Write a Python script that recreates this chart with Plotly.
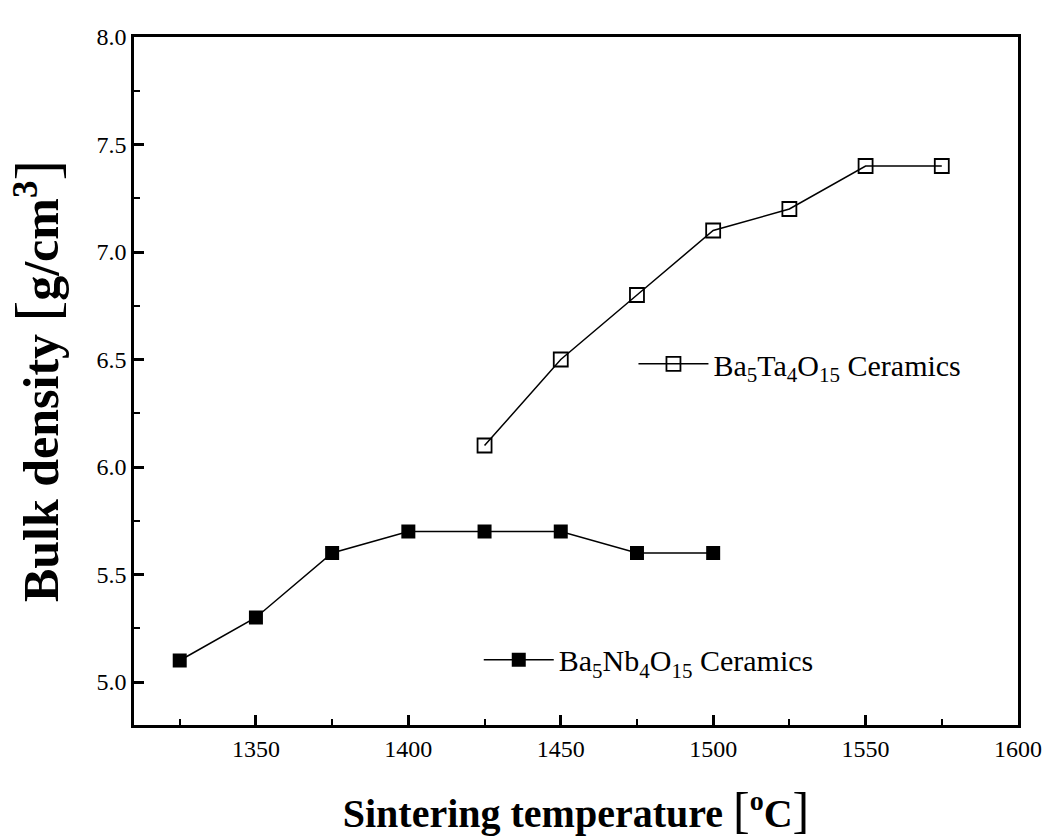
import plotly.graph_objects as go

nb_temp = [1325, 1350, 1375, 1400, 1425, 1450, 1475, 1500]
nb_density = [5.1, 5.3, 5.6, 5.7, 5.7, 5.7, 5.6, 5.6]
ta_temp = [1425, 1450, 1475, 1500, 1525, 1550, 1575]
ta_density = [6.1, 6.5, 6.8, 7.1, 7.2, 7.4, 7.4]

x_ticks = [1350, 1400, 1450, 1500, 1550, 1600]
y_ticks = [5.0, 5.5, 6.0, 6.5, 7.0, 7.5, 8.0]

FONT = "Liberation Serif"


def br(ch, size):
    return '<span style="font-weight:normal;font-size:%dpx">%s</span>' % (size, ch)


fig = go.Figure()
fig.add_trace(go.Scatter(
    x=ta_temp, y=ta_density, mode="lines+markers",
    name="Ba<sub>5</sub>Ta<sub>4</sub>O<sub>15</sub> Ceramics",
    line=dict(color="black", width=1.5),
    marker=dict(symbol="square-open", size=14, color="black", line=dict(width=1.8)),
    legend="legend",
))
fig.add_trace(go.Scatter(
    x=nb_temp, y=nb_density, mode="lines+markers",
    name="Ba<sub>5</sub>Nb<sub>4</sub>O<sub>15</sub> Ceramics",
    line=dict(color="black", width=1.5),
    marker=dict(symbol="square", size=14, color="black"),
    legend="legend2",
))

axis_common = dict(
    showline=True, linecolor="black", linewidth=2.5, mirror=True,
    ticks="inside", ticklen=10, tickwidth=2.5, tickcolor="black",
    showgrid=False, zeroline=False, automargin=False,
    tickfont=dict(family=FONT, size=24, color="black"),
)

legend_common = dict(
    xanchor="left", yanchor="middle", bgcolor="rgba(0,0,0,0)",
    itemwidth=70, font=dict(family=FONT, size=30, color="black"),
)

fig.update_layout(
    width=1049, height=838,
    paper_bgcolor="white", plot_bgcolor="white",
    margin=dict(l=134, r=31, t=37, b=113),
    showlegend=True,
    xaxis=dict(
        range=[1310, 1600], tickvals=x_ticks,
        minor=dict(dtick=25, tick0=1300, ticks="inside", ticklen=6, tickwidth=2, tickcolor="black"),
        title=dict(text="Sintering temperature " + br("[", 50) + "<sup>o</sup>C" + br("]", 50),
                   font=dict(family=FONT, size=40, color="black", weight="bold"), standoff=52),
        **axis_common,
    ),
    yaxis=dict(
        range=[4.8, 8.0], tickvals=y_ticks, tickformat=".1f",
        minor=dict(dtick=0.25, tick0=4.75, ticks="inside", ticklen=6, tickwidth=2, tickcolor="black"),
        title=dict(text="Bulk density " + br("[", 62) + "g/cm<sup>3</sup>" + br("]", 62),
                   font=dict(family=FONT, size=50, color="black", weight="bold"), standoff=22),
        **axis_common,
    ),
    legend=dict(x=0.565, y=0.525, **legend_common),
    legend2=dict(x=0.39, y=0.095, **legend_common),
)

fig.write_html(
    "out.html",
    config={"displayModeBar": False},
    post_script="document.body.style.margin='0';document.body.style.overflow='hidden';"
                "document.documentElement.style.overflow='hidden';",
)
